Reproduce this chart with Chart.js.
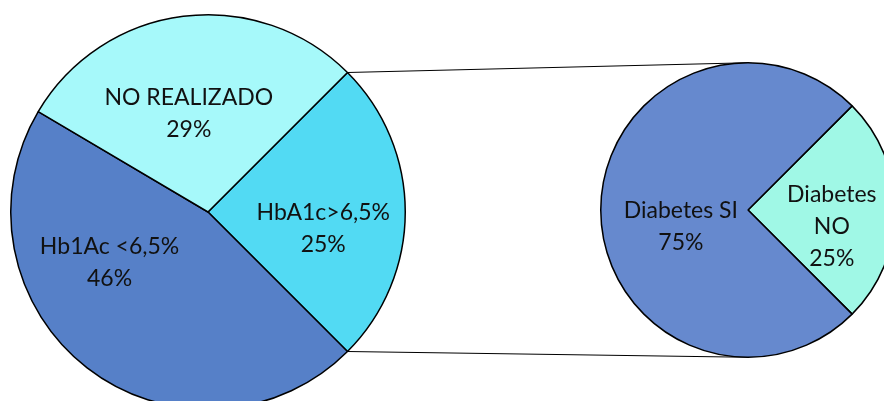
<!DOCTYPE html>
<html>
<head>
  <meta charset="utf-8" />
  <title>HbA1c y diabetes</title>
  <script src="https://cdn.jsdelivr.net/npm/chart.js@4.4.0/dist/chart.umd.min.js"></script>
  <style>
    html, body {
      margin: 0;
      padding: 0;
      background: #fff;
      width: 884px;
      height: 401px;
      overflow: hidden;
    }
    body { position: relative; }
    #links { position: absolute; left: 0; top: 0; z-index: 0; }
    #leftChart { position: absolute; left: 8px; top: 12px; z-index: 1; }
    #rightChart { position: absolute; left: 598px; top: 60px; z-index: 1; }
  </style>
</head>
<body>

<canvas id="links" width="884" height="401"></canvas>
<canvas id="leftChart" width="400" height="400"></canvas>
<canvas id="rightChart" width="300" height="300"></canvas>

<script>
  // Main pie (percentages)
  const leftCategories = ['HbA1c>6,5%', 'Hb1Ac <6,5%', 'NO REALIZADO'];
  const leftValues = [25, 46, 29];
  const leftColors = ['#52DAF3', '#5680C8', '#A6F9FA'];

  // Detail pie
  const rightCategories = ['Diabetes NO', 'Diabetes SI'];
  const rightValues = [25, 75];
  const rightColors = ['#A0F8E6', '#6689CE'];

  // label placement: angle in degrees (clockwise from east), distance as fraction of radius
  const leftLabelAngles = [8, 153, 259];
  const leftLabelRadii = [0.59, 0.56, 0.51];
  const rightLabelAngles = [11, 166];
  const rightLabelRadii = [0.58, 0.47];

  const sliceLabels = {
    id: 'sliceLabels',
    afterDatasetsDraw(chart, args, opts) {
      const ctx = chart.ctx;
      const meta = chart.getDatasetMeta(0);
      const values = chart.data.datasets[0].data;
      ctx.save();
      ctx.font = opts.font;
      ctx.fillStyle = opts.color;
      ctx.textAlign = 'center';
      ctx.textBaseline = 'middle';
      meta.data.forEach((arc, i) => {
        const a = opts.angles[i] * Math.PI / 180;
        const cx = arc.x + Math.cos(a) * opts.radii[i] * arc.outerRadius;
        const cy = arc.y + Math.sin(a) * opts.radii[i] * arc.outerRadius;
        const name = chart.data.labels[i];
        const lines = (opts.wrap[i] ? name.split(' ') : [name]).concat(values[i] + '%');
        lines.forEach((t, k) => {
          ctx.fillText(t, cx, cy + (k - (lines.length - 1) / 2) * opts.lineHeight);
        });
      });
      ctx.restore();
    }
  };

  function drawPie(canvasId, labels, values, colors, angles, radii, wrap) {
    return new Chart(document.getElementById(canvasId), {
      type: 'pie',
      data: {
        labels,
        datasets: [{
          data: values,
          backgroundColor: colors,
          borderColor: '#000',
          borderWidth: 1.5
        }]
      },
      options: {
        responsive: false,
        animation: false,
        rotation: 45,
        layout: { padding: 2 },
        plugins: {
          legend: { display: false },
          tooltip: { enabled: false },
          sliceLabels: {
            font: '23px Lato, "Open Sans", sans-serif',
            color: '#111',
            lineHeight: 32,
            angles,
            radii,
            wrap
          }
        }
      },
      plugins: [sliceLabels]
    });
  }

  const leftChart = drawPie('leftChart', leftCategories, leftValues, leftColors,
    leftLabelAngles, leftLabelRadii, [false, false, false]);
  const rightChart = drawPie('rightChart', rightCategories, rightValues, rightColors,
    rightLabelAngles, rightLabelRadii, [true, false]);

  // connector lines from the split slice to the detail pie
  function drawLinks() {
    const lc = document.getElementById('leftChart');
    const rc = document.getElementById('rightChart');
    const la = leftChart.getDatasetMeta(0).data[0];
    const ra = rightChart.getDatasetMeta(0).data[0];
    const ctx = document.getElementById('links').getContext('2d');
    const lx = lc.offsetLeft + la.x, ly = lc.offsetTop + la.y;
    const rx = rc.offsetLeft + ra.x, ry = rc.offsetTop + ra.y;
    ctx.strokeStyle = '#000';
    ctx.lineWidth = 1.2;
    ctx.beginPath();
    ctx.moveTo(lx + Math.cos(la.startAngle) * la.outerRadius, ly + Math.sin(la.startAngle) * la.outerRadius);
    ctx.lineTo(rx, ry - ra.outerRadius);
    ctx.moveTo(lx + Math.cos(la.endAngle) * la.outerRadius, ly + Math.sin(la.endAngle) * la.outerRadius);
    ctx.lineTo(rx, ry + ra.outerRadius);
    ctx.stroke();
  }
  drawLinks();
</script>

</body>
</html>
